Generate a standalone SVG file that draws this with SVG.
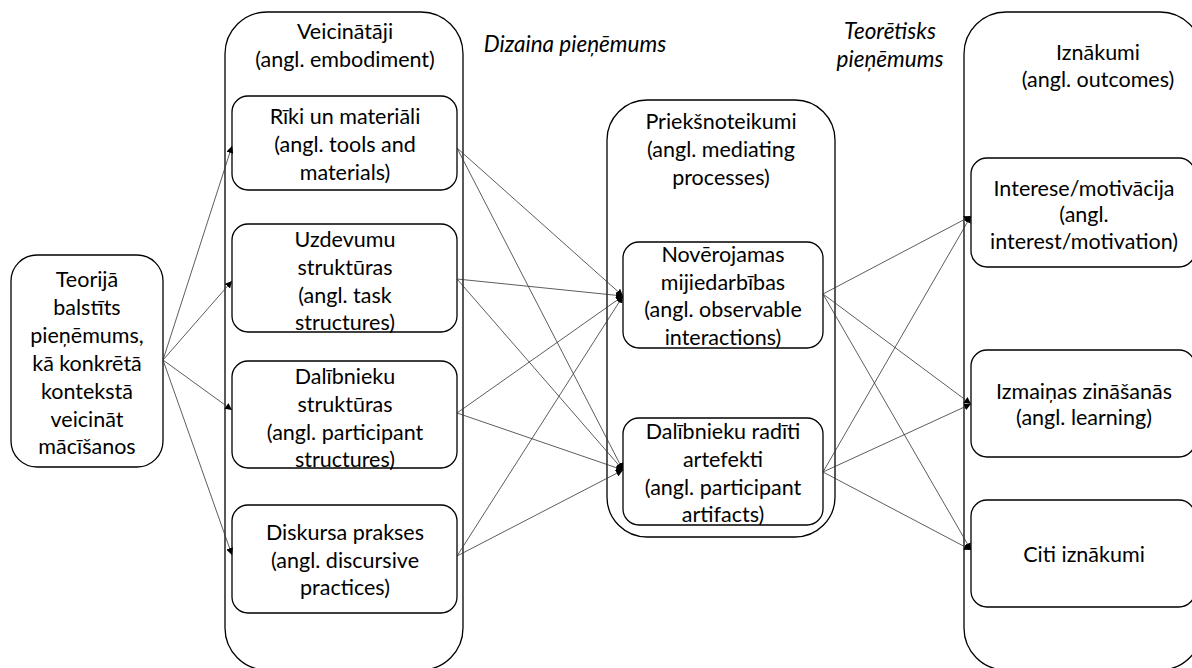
<svg xmlns="http://www.w3.org/2000/svg" width="1192" height="668" viewBox="0 0 1192 668">
  <style>
    .box { fill: #ffffff; stroke: #000000; stroke-width: 1.3; }
    .t { font-family: Lato, "Liberation Sans", sans-serif; font-size: 21.5px; fill: #000000; text-anchor: middle; }
    .it { font-style: italic; font-size: 22.5px; }
    .c { fill: none; stroke: #333333; stroke-width: 0.8; marker-end: url(#tip); }
  </style>
  <defs>
    <marker id="tip" markerUnits="userSpaceOnUse" markerWidth="8" markerHeight="7" refX="7" refY="3.5" orient="auto">
      <path d="M0,0 L7,3.5 L0,7 z" fill="#000000"/>
    </marker>
  </defs>

  <rect width="1192" height="668" fill="#ffffff"/>

  <!-- outer containers -->
  <g id="veicinataji">
    <rect class="box" x="225" y="12" width="238" height="658" rx="42" ry="42"/>
    <text class="t" x="345" y="39">Veicinātāji</text>
    <text class="t" x="345" y="67">(angl. embodiment)</text>
  </g>
  <g id="priekshnoteikumi">
    <rect class="box" x="607" y="100" width="228" height="437" rx="40" ry="40"/>
    <text class="t" x="721" y="129">Priekšnoteikumi</text>
    <text class="t" x="721" y="157">(angl. mediating</text>
    <text class="t" x="721" y="185">processes)</text>
  </g>
  <g id="iznakumi">
    <rect class="box" x="964" y="12" width="238" height="658" rx="42" ry="42"/>
    <text class="t" x="1098" y="60">Iznākumi</text>
    <text class="t" x="1098" y="87">(angl. outcomes)</text>
  </g>

  <!-- side notes -->
  <g id="dizaina-pienemums">
    <text class="t it" x="575" y="52">Dizaina pieņēmums</text>
  </g>
  <g id="teoretisks-pienemums">
    <text class="t it" x="890" y="39">Teorētisks</text>
    <text class="t it" x="890" y="67">pieņēmums</text>
  </g>

  <!-- starting assumption -->
  <g id="teorija">
    <rect class="box" x="11" y="255" width="152" height="212" rx="26" ry="26"/>
    <text class="t" x="87" y="287">Teorijā</text>
    <text class="t" x="87" y="315">balstīts</text>
    <text class="t" x="87" y="343">pieņēmums,</text>
    <text class="t" x="87" y="371">kā konkrētā</text>
    <text class="t" x="87" y="399">kontekstā</text>
    <text class="t" x="87" y="427">veicināt</text>
    <text class="t" x="87" y="454">mācīšanos</text>
  </g>

  <!-- embodiment -->
  <g id="riki">
    <rect class="box" x="232" y="96" width="225" height="94" rx="16" ry="16"/>
    <text class="t" x="345" y="124">Rīki un materiāli</text>
    <text class="t" x="345" y="152">(angl. tools and</text>
    <text class="t" x="345" y="180">materials)</text>
  </g>
  <g id="uzdevumu">
    <rect class="box" x="232" y="224" width="225" height="108" rx="16" ry="16"/>
    <text class="t" x="345" y="247">Uzdevumu</text>
    <text class="t" x="345" y="275">struktūras</text>
    <text class="t" x="345" y="303">(angl. task</text>
    <text class="t" x="345" y="330">structures)</text>
  </g>
  <g id="dalibnieku-strukturas">
    <rect class="box" x="232" y="361" width="225" height="107" rx="16" ry="16"/>
    <text class="t" x="345" y="384">Dalībnieku</text>
    <text class="t" x="345" y="412">struktūras</text>
    <text class="t" x="345" y="440">(angl. participant</text>
    <text class="t" x="345" y="467">structures)</text>
  </g>
  <g id="diskursa">
    <rect class="box" x="232" y="505" width="225" height="108" rx="16" ry="16"/>
    <text class="t" x="345" y="540">Diskursa prakses</text>
    <text class="t" x="345" y="568">(angl. discursive</text>
    <text class="t" x="345" y="595">practices)</text>
  </g>

  <!-- mediating processes -->
  <g id="noverojamas">
    <rect class="box" x="623" y="242" width="200" height="106" rx="16" ry="16"/>
    <text class="t" x="723" y="262">Novērojamas</text>
    <text class="t" x="723" y="290">mijiedarbības</text>
    <text class="t" x="723" y="317">(angl. observable</text>
    <text class="t" x="723" y="345">interactions)</text>
  </g>
  <g id="artefekti">
    <rect class="box" x="623" y="418" width="200" height="107" rx="16" ry="16"/>
    <text class="t" x="723" y="439">Dalībnieku radīti</text>
    <text class="t" x="723" y="467">artefekti</text>
    <text class="t" x="723" y="495">(angl. participant</text>
    <text class="t" x="723" y="522">artifacts)</text>
  </g>

  <!-- outcomes -->
  <g id="interese">
    <rect class="box" x="971" y="158" width="224" height="109" rx="16" ry="16"/>
    <text class="t" x="1084" y="196">Interese/motivācija</text>
    <text class="t" x="1084" y="222">(angl.</text>
    <text class="t" x="1084" y="249">interest/motivation)</text>
  </g>
  <g id="izmainas">
    <rect class="box" x="971" y="350" width="224" height="107" rx="16" ry="16"/>
    <text class="t" x="1084" y="399">Izmaiņas zināšanās</text>
    <text class="t" x="1084" y="425">(angl. learning)</text>
  </g>
  <g id="citi">
    <rect class="box" x="971" y="500" width="224" height="107" rx="16" ry="16"/>
    <text class="t" x="1084" y="562">Citi iznākumi</text>
  </g>

  <!-- connectors -->
  <g id="connectors">
    <line class="c" x1="163" y1="360" x2="232" y2="146"/>
    <line class="c" x1="163" y1="360" x2="232" y2="281"/>
    <line class="c" x1="163" y1="360" x2="232" y2="410"/>
    <line class="c" x1="163" y1="360" x2="232" y2="555"/>

    <line class="c" x1="457" y1="148" x2="623" y2="296"/>
    <line class="c" x1="457" y1="148" x2="623" y2="470"/>
    <line class="c" x1="457" y1="279" x2="623" y2="296"/>
    <line class="c" x1="457" y1="279" x2="623" y2="470"/>
    <line class="c" x1="457" y1="413" x2="623" y2="296"/>
    <line class="c" x1="457" y1="413" x2="623" y2="470"/>
    <line class="c" x1="457" y1="556" x2="623" y2="296"/>
    <line class="c" x1="457" y1="556" x2="623" y2="470"/>

    <line class="c" x1="823" y1="294" x2="971" y2="216"/>
    <line class="c" x1="823" y1="294" x2="971" y2="404"/>
    <line class="c" x1="823" y1="294" x2="971" y2="550"/>
    <line class="c" x1="823" y1="472" x2="971" y2="216"/>
    <line class="c" x1="823" y1="472" x2="971" y2="404"/>
    <line class="c" x1="823" y1="472" x2="971" y2="550"/>
  </g>
</svg>
